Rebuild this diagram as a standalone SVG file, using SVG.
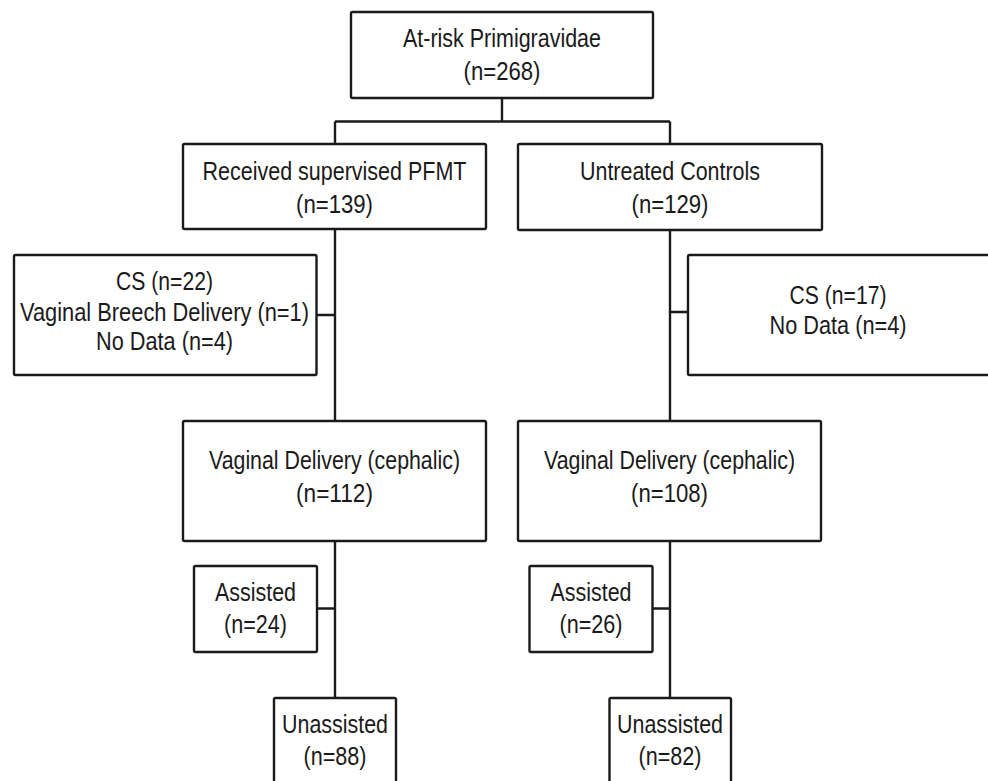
<svg xmlns="http://www.w3.org/2000/svg" width="988" height="781" viewBox="0 0 988 781">
<style>
.box{fill:#fff;stroke:#1a1a1a;stroke-width:2.4;stroke-linejoin:round}
.ln{fill:none;stroke:#1a1a1a;stroke-width:2.4}
text{font-family:"Liberation Sans",Arial,Helvetica,sans-serif;font-size:25.5px;fill:#1a1a1a;text-anchor:middle}
</style>
<rect width="988" height="781" fill="#fff"/>
<g id="connectors">
<path class="ln" d="M502,98V121.5M335,121.5H670M335,121.5V144M670,121.5V144"/>
<path class="ln" d="M335,229V421M316.5,315H335"/>
<path class="ln" d="M670,230V421M670,312H688"/>
<path class="ln" d="M335,541V698M317,608.5H335"/>
<path class="ln" d="M670,541V698M652.5,608.5H670"/>
</g>
<g id="n-root">
<rect class="box" x="351" y="12" width="302" height="86" rx="1.5"/>
<text x="502" y="47" textLength="198" lengthAdjust="spacingAndGlyphs">At-risk Primigravidae</text>
<text x="502" y="80" textLength="77" lengthAdjust="spacingAndGlyphs">(n=268)</text>
</g>
<g id="n-pfmt">
<rect class="box" x="183" y="144" width="303" height="85" rx="1.5"/>
<text x="334.5" y="180" textLength="264" lengthAdjust="spacingAndGlyphs">Received supervised PFMT</text>
<text x="334.5" y="213" textLength="77" lengthAdjust="spacingAndGlyphs">(n=139)</text>
</g>
<g id="n-controls">
<rect class="box" x="518" y="144" width="304" height="86" rx="1.5"/>
<text x="670" y="180" textLength="180" lengthAdjust="spacingAndGlyphs">Untreated Controls</text>
<text x="670" y="213" textLength="77" lengthAdjust="spacingAndGlyphs">(n=129)</text>
</g>
<g id="n-excl-pfmt">
<rect class="box" x="14" y="255" width="302.5" height="120" rx="1.5"/>
<text x="164.5" y="290" textLength="97" lengthAdjust="spacingAndGlyphs">CS (n=22)</text>
<text x="164.5" y="320.5" textLength="289" lengthAdjust="spacingAndGlyphs">Vaginal Breech Delivery (n=1)</text>
<text x="164.5" y="350" textLength="137" lengthAdjust="spacingAndGlyphs">No Data (n=4)</text>
</g>
<g id="n-excl-controls">
<rect class="box" x="688" y="255" width="304" height="120" rx="1.5"/>
<text x="838" y="304" textLength="97" lengthAdjust="spacingAndGlyphs">CS (n=17)</text>
<text x="838" y="334" textLength="137" lengthAdjust="spacingAndGlyphs">No Data (n=4)</text>
</g>
<g id="n-vd-pfmt">
<rect class="box" x="183" y="421" width="303" height="120" rx="1.5"/>
<text x="334.5" y="469" textLength="251" lengthAdjust="spacingAndGlyphs">Vaginal Delivery (cephalic)</text>
<text x="334.5" y="502" textLength="77" lengthAdjust="spacingAndGlyphs">(n=112)</text>
</g>
<g id="n-vd-controls">
<rect class="box" x="518" y="421" width="303" height="120" rx="1.5"/>
<text x="669.5" y="469" textLength="251" lengthAdjust="spacingAndGlyphs">Vaginal Delivery (cephalic)</text>
<text x="669.5" y="502" textLength="77" lengthAdjust="spacingAndGlyphs">(n=108)</text>
</g>
<g id="n-assisted-pfmt">
<rect class="box" x="194" y="566" width="123" height="86" rx="1.5"/>
<text x="255.5" y="601" textLength="81" lengthAdjust="spacingAndGlyphs">Assisted</text>
<text x="255.5" y="633" textLength="63" lengthAdjust="spacingAndGlyphs">(n=24)</text>
</g>
<g id="n-assisted-controls">
<rect class="box" x="529.5" y="566" width="123" height="86" rx="1.5"/>
<text x="591" y="601" textLength="81" lengthAdjust="spacingAndGlyphs">Assisted</text>
<text x="591" y="633" textLength="63" lengthAdjust="spacingAndGlyphs">(n=26)</text>
</g>
<g id="n-unassisted-pfmt">
<rect class="box" x="274" y="698" width="122" height="110" rx="1.5"/>
<text x="335" y="733" textLength="106" lengthAdjust="spacingAndGlyphs">Unassisted</text>
<text x="335" y="765" textLength="63" lengthAdjust="spacingAndGlyphs">(n=88)</text>
</g>
<g id="n-unassisted-controls">
<rect class="box" x="609.5" y="698" width="121.5" height="110" rx="1.5"/>
<text x="670" y="733" textLength="106" lengthAdjust="spacingAndGlyphs">Unassisted</text>
<text x="670" y="765" textLength="63" lengthAdjust="spacingAndGlyphs">(n=82)</text>
</g>
</svg>
